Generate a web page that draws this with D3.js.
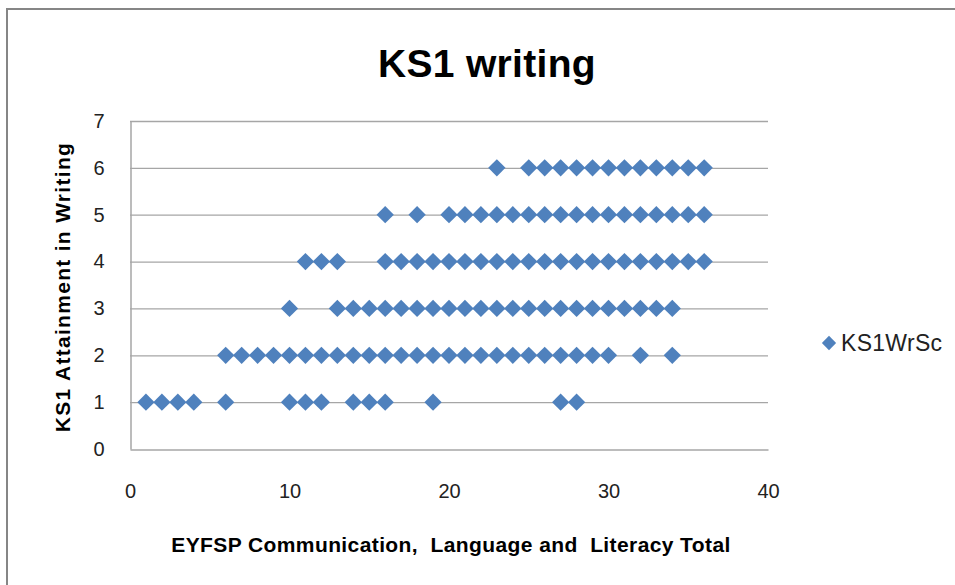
<!DOCTYPE html>
<html><head><meta charset="utf-8">
<script src="https://cdn.jsdelivr.net/npm/d3@7"></script>
<style>body{margin:0;background:#fff}svg{display:block}</style>
</head><body>
<script>
const title = "KS1 writing";
const xTitle = "EYFSP Communication,  Language and  Literacy Total";
const yTitle = "KS1 Attainment in Writing";
const seriesName = "KS1WrSc";
const xTicks = [0, 10, 20, 30, 40];
const yTicks = [0, 1, 2, 3, 4, 5, 6, 7];
// x values (EYFSP totals) observed at each KS1 level
const level1 = [1, 2, 3, 4, 6, 10, 11, 12, 14, 15, 16, 19, 27, 28];
const level2 = [6, 7, 8, 9, 10, 11, 12, 13, 14, 15, 16, 17, 18, 19, 20, 21, 22, 23, 24, 25, 26, 27, 28, 29, 30, 32, 34];
const level3 = [10, 13, 14, 15, 16, 17, 18, 19, 20, 21, 22, 23, 24, 25, 26, 27, 28, 29, 30, 31, 32, 33, 34];
const level4 = [11, 12, 13, 16, 17, 18, 19, 20, 21, 22, 23, 24, 25, 26, 27, 28, 29, 30, 31, 32, 33, 34, 35, 36];
const level5 = [16, 18, 20, 21, 22, 23, 24, 25, 26, 27, 28, 29, 30, 31, 32, 33, 34, 35, 36];
const level6 = [23, 25, 26, 27, 28, 29, 30, 31, 32, 33, 34, 35, 36];
const levels = [1, 2, 3, 4, 5, 6];
const levelData = [level1, level2, level3, level4, level5, level6];

const points = [];
levels.forEach((lv, i) => levelData[i].forEach(x => points.push({x: x, y: lv})));

const W = 955, H = 585;
const font = "'Liberation Sans', Arial, sans-serif";
const svg = d3.select("body").append("svg").attr("width", W).attr("height", H);

// outer chart border
svg.append("rect").attr("x", 7).attr("y", 9).attr("width", W + 10).attr("height", H + 10)
  .attr("fill", "#fff").attr("stroke", "#868686").attr("stroke-width", 2);

const x = d3.scaleLinear().domain([0, 40]).range([130, 768]);
const y = d3.scaleLinear().domain([0, 7]).range([449, 121]);

// gridlines
svg.append("g").selectAll("line").data(yTicks.filter(d => d > 0)).join("line")
  .attr("x1", x(0)).attr("x2", x(40)).attr("y1", d => y(d) + 0.5).attr("y2", d => y(d) + 0.5)
  .attr("stroke", "#a6a6a6").attr("stroke-width", 1.3);

// axes
const xAxis = svg.append("g").attr("transform", `translate(0,${y(0) + 0.5})`)
  .call(d3.axisBottom(x).tickValues(xTicks).tickFormat(d3.format("d")).tickSize(0).tickPadding(34));
const yAxis = svg.append("g").attr("transform", `translate(${x(0) + 0.5},0)`)
  .call(d3.axisLeft(y).tickValues(yTicks).tickFormat(d3.format("d")).tickSize(0).tickPadding(26));
[xAxis, yAxis].forEach(a => {
  a.select(".domain").attr("stroke", "#a6a6a6").attr("stroke-width", 1.5);
  a.selectAll("text").attr("font-family", font).attr("font-size", 20).attr("fill", "#222");
});

// points
const sym = d3.symbol().type(d3.symbolDiamond2).size(190);
svg.append("g").selectAll("path").data(points).join("path")
  .attr("d", sym).attr("transform", d => `translate(${x(d.x)},${y(d.y)})`)
  .attr("fill", "#4f81bd");

// title
svg.append("text").attr("x", 487).attr("y", 77).attr("text-anchor", "middle")
  .attr("font-family", font).attr("font-weight", "bold").attr("font-size", 39)
  .attr("letter-spacing", 0.3).attr("fill", "#000").text(title);

svg.append("text").attr("x", 451).attr("y", 552).attr("text-anchor", "middle")
  .attr("font-family", font).attr("font-weight", "bold").attr("font-size", 21)
  .attr("letter-spacing", 0.4).attr("fill", "#000").style("white-space", "pre").text(xTitle);

svg.append("text").attr("transform", "translate(70,287) rotate(-90)").attr("text-anchor", "middle")
  .attr("font-family", font).attr("font-weight", "bold").attr("font-size", 21)
  .attr("letter-spacing", 1.3).attr("fill", "#000").text(yTitle);

// legend
svg.append("path").attr("d", d3.symbol().type(d3.symbolDiamond2).size(130))
  .attr("transform", "translate(829,343)").attr("fill", "#4f81bd");
svg.append("text").attr("x", 841).attr("y", 351).attr("font-family", font)
  .attr("font-size", 23).attr("letter-spacing", 0.3).attr("fill", "#222").text(seriesName);
</script>
</body></html>
